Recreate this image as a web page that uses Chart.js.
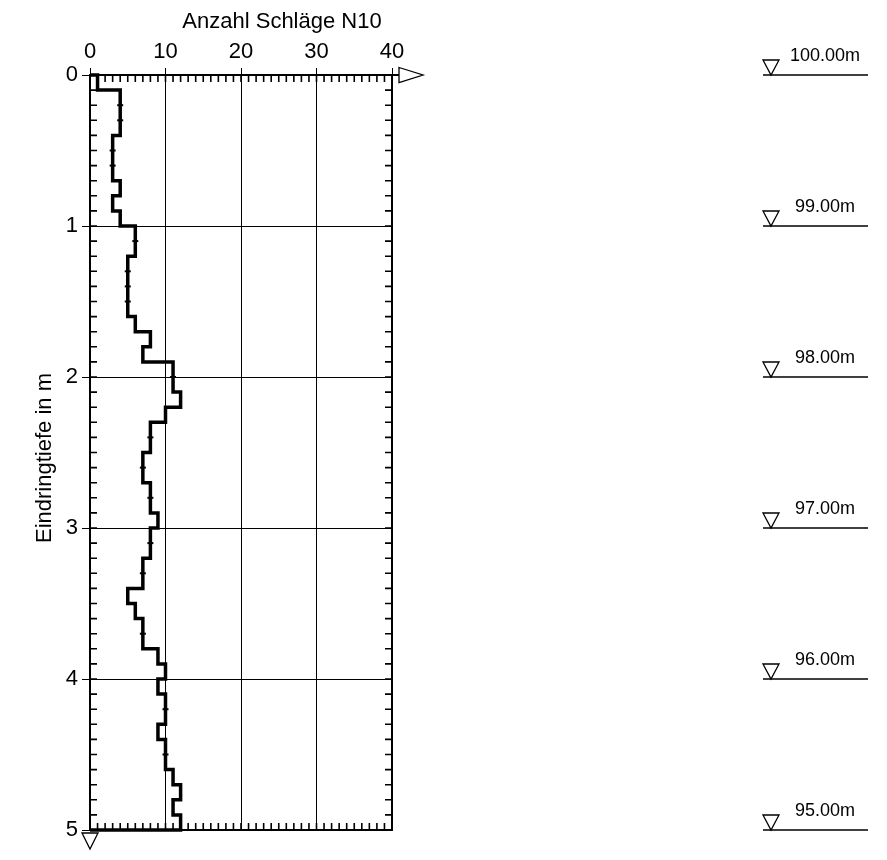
<!DOCTYPE html>
<html>
<head>
<meta charset="utf-8">
<script src="https://cdn.jsdelivr.net/npm/chart.js@4/dist/chart.umd.min.js"></script>
<style>
  html, body { margin: 0; padding: 0; background: #fff; }
  #wrap { width: 887px; height: 860px; }
</style>
</head>
<body>
<div id="wrap"><canvas id="chart" width="887" height="860"></canvas></div>
<script>
// Dynamic probing: blows per 10 cm of penetration (N10)
const depthBoundaries = [
  0.0, 0.1, 0.2, 0.3, 0.4, 0.5, 0.6, 0.7, 0.8, 0.9,
  1.0, 1.1, 1.2, 1.3, 1.4, 1.5, 1.6, 1.7, 1.8, 1.9,
  2.0, 2.1, 2.2, 2.3, 2.4, 2.5, 2.6, 2.7, 2.8, 2.9,
  3.0, 3.1, 3.2, 3.3, 3.4, 3.5, 3.6, 3.7, 3.8, 3.9,
  4.0, 4.1, 4.2, 4.3, 4.4, 4.5, 4.6, 4.7, 4.8, 4.9,
  5.0
];
const blows = [
  1, 4, 4, 4, 3, 3, 3, 4, 3, 4,
  6, 6, 5, 5, 5, 5, 6, 8, 7, 11,
  11, 12, 10, 8, 8, 7, 7, 8, 8, 9,
  8, 8, 7, 7, 5, 6, 7, 7, 9, 10,
  9, 10, 10, 9, 10, 10, 11, 12, 11, 12
];
const blowTicks = [0, 10, 20, 30, 40];
const depthTicks = [0, 1, 2, 3, 4, 5];
const elevationDepths = [0, 1, 2, 3, 4, 5];
const elevationLabels = ['100.00m', '99.00m', '98.00m', '97.00m', '96.00m', '95.00m'];

const xTitle = 'Anzahl Schläge N10';
const yTitle = 'Eindringtiefe in m';
const FONT = '"Liberation Sans", Arial, Helvetica, sans-serif';

// Step profile: each layer drawn as a vertical segment at its blow count
const profile = [{ x: 0, y: depthBoundaries[0] }];
const markAt = [false];
for (let i = 0; i < blows.length; i++) {
  profile.push({ x: blows[i], y: depthBoundaries[i] });
  markAt.push(i > 0 && blows[i] === blows[i - 1]);
  profile.push({ x: blows[i], y: depthBoundaries[i + 1] });
  markAt.push(false);
}
profile.push({ x: 0, y: depthBoundaries[depthBoundaries.length - 1] });
markAt.push(false);

// Frame and minor ticks along all four sides of the plot
const frameTicks = {
  id: 'frameTicks',
  beforeDatasetsDraw(chart) {
    const { ctx, chartArea: a, scales: { x, y } } = chart;
    ctx.save();
    ctx.strokeStyle = '#000';
    ctx.lineWidth = 1.6;
    ctx.beginPath();
    for (let v = 1; v < 40; v++) {
      const px = x.getPixelForValue(v);
      ctx.moveTo(px, a.top); ctx.lineTo(px, a.top + 7);
      ctx.moveTo(px, a.bottom); ctx.lineTo(px, a.bottom - 7);
    }
    for (let k = 1; k < depthBoundaries.length - 1; k++) {
      const py = y.getPixelForValue(depthBoundaries[k]);
      ctx.moveTo(a.left, py); ctx.lineTo(a.left + 7, py);
      ctx.moveTo(a.right, py); ctx.lineTo(a.right - 7, py);
    }
    ctx.stroke();
    ctx.lineWidth = 2;
    ctx.strokeRect(a.left, a.top, a.right - a.left, a.bottom - a.top);
    ctx.restore();
  },
  afterDraw(chart) {
    const { ctx, chartArea: a, scales: { y } } = chart;
    ctx.save();
    ctx.strokeStyle = '#000';
    ctx.fillStyle = '#fff';
    // axis arrow on the blow-count axis
    ctx.lineWidth = 2;
    ctx.beginPath();
    ctx.moveTo(a.right, a.top); ctx.lineTo(a.right + 7, a.top);
    ctx.stroke();
    ctx.lineWidth = 1.3;
    ctx.beginPath();
    ctx.moveTo(a.right + 7, a.top - 7.5);
    ctx.lineTo(a.right + 31, a.top);
    ctx.lineTo(a.right + 7, a.top + 7.5);
    ctx.closePath();
    ctx.fill(); ctx.stroke();
    // end-of-probing marker below the depth axis
    ctx.beginPath();
    ctx.moveTo(a.left - 8, a.bottom + 3);
    ctx.lineTo(a.left + 8, a.bottom + 3);
    ctx.lineTo(a.left, a.bottom + 19);
    ctx.closePath();
    ctx.fill(); ctx.stroke();

    // axis titles
    ctx.fillStyle = '#000';
    ctx.font = '22px ' + FONT;
    ctx.textAlign = 'center';
    ctx.textBaseline = 'middle';
    ctx.fillText(xTitle, 282, 22);
    ctx.save();
    ctx.translate(45, 458);
    ctx.rotate(-Math.PI / 2);
    ctx.fillText(yTitle, 0, 0);
    ctx.restore();

    // elevation marks
    ctx.font = '18px ' + FONT;
    ctx.textAlign = 'center';
    ctx.textBaseline = 'alphabetic';
    for (let i = 0; i < elevationDepths.length; i++) {
      const py = y.getPixelForValue(elevationDepths[i]);
      ctx.lineWidth = 1.3;
      ctx.beginPath();
      ctx.moveTo(763, py); ctx.lineTo(868, py);
      ctx.stroke();
      ctx.beginPath();
      ctx.moveTo(763, py - 15);
      ctx.lineTo(779, py - 15);
      ctx.lineTo(771, py);
      ctx.closePath();
      ctx.stroke();
      ctx.fillText(elevationLabels[i], 825, py - 14);
    }
    ctx.restore();
  }
};

new Chart(document.getElementById('chart'), {
  type: 'line',
  data: {
    datasets: [{
      data: profile,
      borderColor: '#000',
      borderWidth: 3.5,
      borderJoinStyle: 'miter',
      fill: false,
      tension: 0,
      clip: false,
      pointStyle: 'line',
      pointBorderColor: '#000',
      pointBorderWidth: 2,
      pointRadius: (c) => (markAt[c.dataIndex] ? 3 : 0),
      pointHoverRadius: 0
    }]
  },
  options: {
    responsive: false,
    animation: false,
    events: [],
    layout: { padding: { left: 0, top: 0, right: 495, bottom: 30 } },
    plugins: { legend: { display: false }, tooltip: { enabled: false }, title: { display: false } },
    scales: {
      x: {
        type: 'linear',
        position: 'top',
        min: 0,
        max: 40,
        afterFit: (s) => { s.height = 75; },
        afterBuildTicks: (s) => { s.ticks = blowTicks.map((v) => ({ value: v })); },
        ticks: { color: '#000', font: { family: FONT, size: 22 }, padding: 3, maxRotation: 0 },
        grid: { color: '#000', lineWidth: 1, tickLength: 7 },
        border: { display: true, color: '#000', width: 2 }
      },
      y: {
        type: 'linear',
        position: 'left',
        reverse: true,
        min: 0,
        max: 5,
        afterFit: (s) => { s.width = 90; },
        afterBuildTicks: (s) => { s.ticks = depthTicks.map((v) => ({ value: v })); },
        ticks: { color: '#000', font: { family: FONT, size: 22 }, padding: 4 },
        grid: { color: '#000', lineWidth: 1, tickLength: 8 },
        border: { display: true, color: '#000', width: 2 }
      }
    }
  },
  plugins: [frameTicks]
});
</script>
</body>
</html>
